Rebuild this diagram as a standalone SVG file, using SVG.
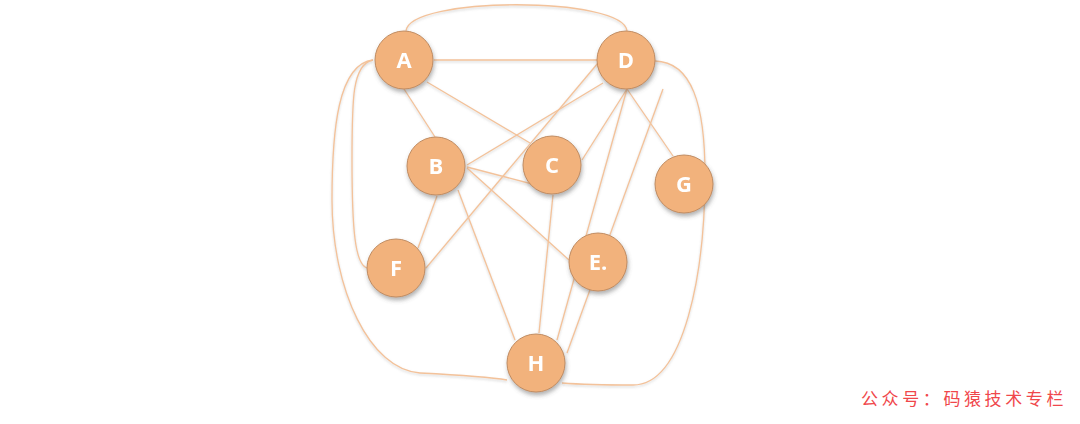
<svg xmlns="http://www.w3.org/2000/svg" width="1080" height="424" viewBox="0 0 1080 424">
<style>
.e{fill:none;stroke:#F3C29A;stroke-width:1.3}
.n{fill:#F2B27B;stroke:#C08C62;stroke-width:1}
.t{font-family:"Open Sans","Liberation Sans",sans-serif;font-weight:bold;font-size:22px;fill:#FFFFFF;text-anchor:middle}
.w{font-family:"Noto Sans CJK SC",sans-serif;font-size:17px;fill:#F0474B;letter-spacing:3.6px}
</style>
<defs>
<filter id="ns" x="-30%" y="-30%" width="160%" height="170%">
<feDropShadow dx="1" dy="3" stdDeviation="2" flood-color="#555" flood-opacity="0.45"/>
</filter>
<filter id="es" x="-10%" y="-10%" width="120%" height="130%">
<feDropShadow dx="0" dy="1.5" stdDeviation="1" flood-color="#888" flood-opacity="0.35"/>
</filter>
</defs>
<rect width="1080" height="424" fill="#FFFFFF"/>
<g id="connectors" filter="url(#es)">
<path class="e" d="M406 31 C409 -4 624 -4 627 31"/>
<path class="e" d="M434 60 L597 60"/>
<path class="e" d="M404 89 L435 137"/>
<path class="e" d="M427 82 L530 143"/>
<path class="e" d="M373 60 C352 64 352 100 352 160 C352 230 355 264 367 268"/>
<path class="e" d="M373 60 C338 64 332 130 332 200 C332 290 370 370 420 373 C460 375 490 377 507 380"/>
<path class="e" d="M603 83 L467 165"/>
<path class="e" d="M598 63 L426 268"/>
<path class="e" d="M627 89 L582 160"/>
<path class="e" d="M627 89 L557 340"/>
<path class="e" d="M627 89 L673 156"/>
<path class="e" d="M663 89 L567 353"/>
<path class="e" d="M655 61 C692 62 705 105 705 175 C705 270 685 385 633 385 C600 385 575 384 562 383"/>
<path class="e" d="M467 167 L532 184"/>
<path class="e" d="M467 168 L569 260"/>
<path class="e" d="M437 196 L418 248"/>
<path class="e" d="M458 190 L515 340"/>
<path class="e" d="M553 195 L539 333"/>
</g>
<g id="node-A" filter="url(#ns)"><circle class="n" cx="404" cy="60" r="29"/><text class="t" x="404" y="68">A</text></g>
<g id="node-D" filter="url(#ns)"><circle class="n" cx="626" cy="60" r="29"/><text class="t" x="626" y="68">D</text></g>
<g id="node-B" filter="url(#ns)"><circle class="n" cx="436" cy="166" r="29"/><text class="t" x="436" y="174">B</text></g>
<g id="node-C" filter="url(#ns)"><circle class="n" cx="552" cy="165" r="29"/><text class="t" x="552" y="173">C</text></g>
<g id="node-G" filter="url(#ns)"><circle class="n" cx="684" cy="184" r="29"/><text class="t" x="684" y="192">G</text></g>
<g id="node-F" filter="url(#ns)"><circle class="n" cx="396" cy="268" r="29"/><text class="t" x="396" y="276">F</text></g>
<g id="node-E" filter="url(#ns)"><circle class="n" cx="598" cy="262" r="29"/><text class="t" x="598" y="270">E.</text></g>
<g id="node-H" filter="url(#ns)"><circle class="n" cx="536" cy="363" r="29"/><text class="t" x="536" y="371">H</text></g>
<text class="w" x="861" y="405">公众号：码猿技术专栏</text>
</svg>
